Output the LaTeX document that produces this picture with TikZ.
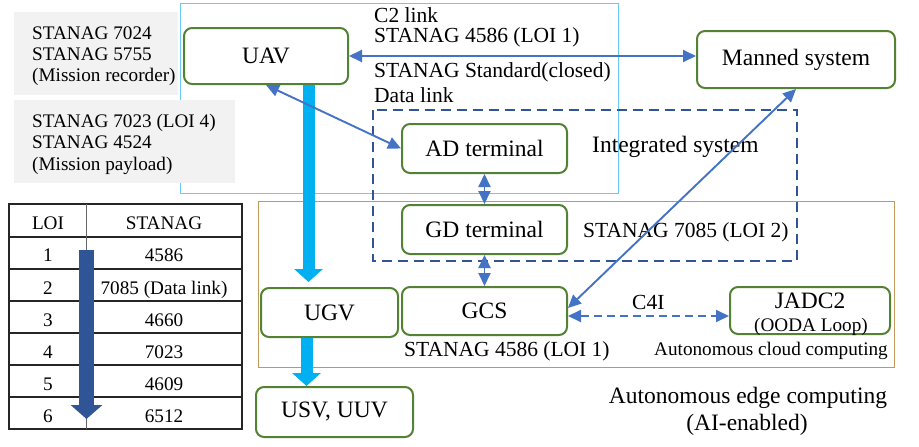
\documentclass[tikz,border=0pt]{standalone}
\usepackage{fontspec}
\setmainfont{Liberation Serif}
\usetikzlibrary{arrows.meta,calc}
\definecolor{boxgreen}{HTML}{548235}
\definecolor{linkblue}{HTML}{4472C4}
\definecolor{darkblue}{HTML}{2F5597}
\definecolor{cyanarrow}{HTML}{00B0F0}
\definecolor{cyanframe}{HTML}{66CCF5}
\definecolor{tanframe}{HTML}{C09A5B}
\definecolor{grayfill}{HTML}{F2F2F2}
\newcommand\fsBig{\fontsize{23.5}{26}\selectfont}
\newcommand\fsMid{\fontsize{21.5}{24}\selectfont}
\newcommand\fsSmall{\fontsize{19.2}{22}\selectfont}
\tikzset{
  sysbox/.style={draw=boxgreen, line width=2pt, rounded corners=8pt, fill=white, inner sep=0pt, font=\fsBig},
  link/.style={draw=linkblue, line width=1.9pt, {Triangle[length=13pt,width=12pt]}-{Triangle[length=13pt,width=12pt]}},
  bigarrow/.style={draw=cyanarrow, line width=12pt, -{Triangle[length=13pt,width=28pt]}},
  lbl/.style={inner sep=0pt, anchor=base west},
  clbl/.style={inner sep=0pt, anchor=base},
  tline/.style={line width=1.2pt, draw=black!85},
}
\begin{document}
\begin{tikzpicture}[x=1pt,y=-1pt]
\useasboundingbox (0,0) rectangle (919,447);
% frames
\draw[cyanframe, line width=1pt] (180,3) rectangle (618,193);
\draw[tanframe, line width=1pt] (258,201) rectangle (894,367);
% gray boxes
\fill[grayfill] (14,12) rectangle (178,95);
\fill[grayfill] (14,100) rectangle (235,183);
\node[lbl, font=\fsSmall] (g1) at (32,39) {STANAG 7024};
\node[lbl, font=\fsSmall] (g2) at (32,60) {STANAG 5755};
\node[lbl, font=\fsSmall] (g3) at (32,81) {(Mission recorder)};
\node[lbl, font=\fsSmall] (g4) at (32,127) {STANAG 7023 (LOI 4)};
\node[lbl, font=\fsSmall] (g5) at (32,148) {STANAG 4524};
\node[lbl, font=\fsSmall] (g6) at (32,170) {(Mission payload)};
% dashed integrated system
\draw[darkblue, line width=2.8pt, dash pattern=on 10pt off 6pt] (373,110) rectangle (797,261);
% boxes
\node[sysbox, minimum width=164pt, minimum height=56pt] (UAV) at (266,56) {UAV};
\node[sysbox, minimum width=198pt, minimum height=57pt] (MAN) at (796,59.5) {Manned system};
\node[sysbox, minimum width=165pt, minimum height=49pt] (AD) at (484.5,148.5) {AD terminal};
\node[sysbox, minimum width=165pt, minimum height=49pt] (GD) at (484.5,229.5) {GD terminal};
\node[sysbox, minimum width=165pt, minimum height=48pt] (GCS) at (484.5,311) {GCS};
\node[sysbox, minimum width=160pt, minimum height=47pt] (JADC) at (810,310.5) {};
\node[sysbox, minimum width=137pt, minimum height=49pt] (UGV) at (329.5,312.5) {UGV};
\node[sysbox, minimum width=157pt, minimum height=50pt] (USV) at (334.5,412) {USV, UUV};
\node[clbl, font=\fsBig] (jadctxt) at (810,308) {JADC2};
\node[clbl, font=\fsSmall] (ooda) at (811,331) {(OODA Loop)};
% labels
\node[lbl, font=\fsMid] (c2) at (374,22) {C2 link};
\node[lbl, font=\fsMid] (s4586a) at (374,42) {STANAG 4586 (LOI 1)};
\node[lbl, font=\fsMid] (sstd) at (374,77) {STANAG Standard(closed)};
\node[lbl, font=\fsMid] (dlink) at (374,102) {Data link};
\node[lbl, font=\fsBig] (integ) at (592,152) {Integrated system};
\node[lbl, font=\fsMid] (s7085) at (583,237) {STANAG 7085 (LOI 2)};
\node[lbl, font=\fsMid] (s4586b) at (404,356) {STANAG 4586 (LOI 1)};
\node[inner sep=0pt, anchor=base east, font=\fsSmall] (cloud) at (888,355) {Autonomous cloud computing};
\node[lbl, font=\fsMid] (c4i) at (632,309) {C4I};
\node[clbl, font=\fsBig] (edge1) at (748,403) {Autonomous edge computing};
\node[clbl, font=\fsBig] (edge2) at (747,430) {(AI-enabled)};
% cyan arrows
\draw[bigarrow, shorten >=5pt] ([xshift=42.5pt]UAV.south) -- ([xshift=-21pt]UGV.north);
\draw[bigarrow] ([xshift=-23pt]UGV.south) -- ([xshift=-28pt]USV.north);
% links
\draw[link] (UAV.east) -- (UAV.east -| MAN.west);
\draw[link] (UAV.south) -- (AD.west);
\draw[link] (AD.south) -- (GD.north);
\draw[link] (GD.south) -- (GCS.north);
\draw[link] ([yshift=3pt]GCS.east) -- (MAN.south);
\draw[link, dash pattern=on 8pt off 5pt] ([yshift=-5pt]GCS.east) -- ([yshift=-5pt]GCS.east -| JADC.west);
% table
\draw[tline] (9,204) rectangle (242,429);
\foreach \yy in {237,269,301,333,365,397} \draw[tline] (9,\yy) -- (242,\yy);
\draw[line width=0.8pt, draw=black!60] (86,204) -- (86,429);
\node[clbl, font=\fsSmall] (th1) at (48,229) {LOI};
\node[clbl, font=\fsSmall] (th2) at (164,229) {STANAG};
\node[clbl, font=\fsSmall] (r1a) at (48,261) {1};
\node[clbl, font=\fsSmall] (r1b) at (164,261) {4586};
\node[clbl, font=\fsSmall] (r2a) at (48,294) {2};
\node[clbl, font=\fsSmall] (r2b) at (164,294) {7085 (Data link)};
\node[clbl, font=\fsSmall] (r3a) at (48,326) {3};
\node[clbl, font=\fsSmall] (r3b) at (164,326) {4660};
\node[clbl, font=\fsSmall] (r4a) at (48,358) {4};
\node[clbl, font=\fsSmall] (r4b) at (164,358) {7023};
\node[clbl, font=\fsSmall] (r5a) at (48,390) {5};
\node[clbl, font=\fsSmall] (r5b) at (164,390) {4609};
\node[clbl, font=\fsSmall] (r6a) at (48,422) {6};
\node[clbl, font=\fsSmall] (r6b) at (164,422) {6512};
\coordinate (ta) at (86.5,250);
\coordinate (tb) at (86.5,419);
\draw[darkblue, line width=15pt, -{Triangle[length=14pt,width=31pt]}] (ta) -- (tb);
\end{tikzpicture}
\end{document}
